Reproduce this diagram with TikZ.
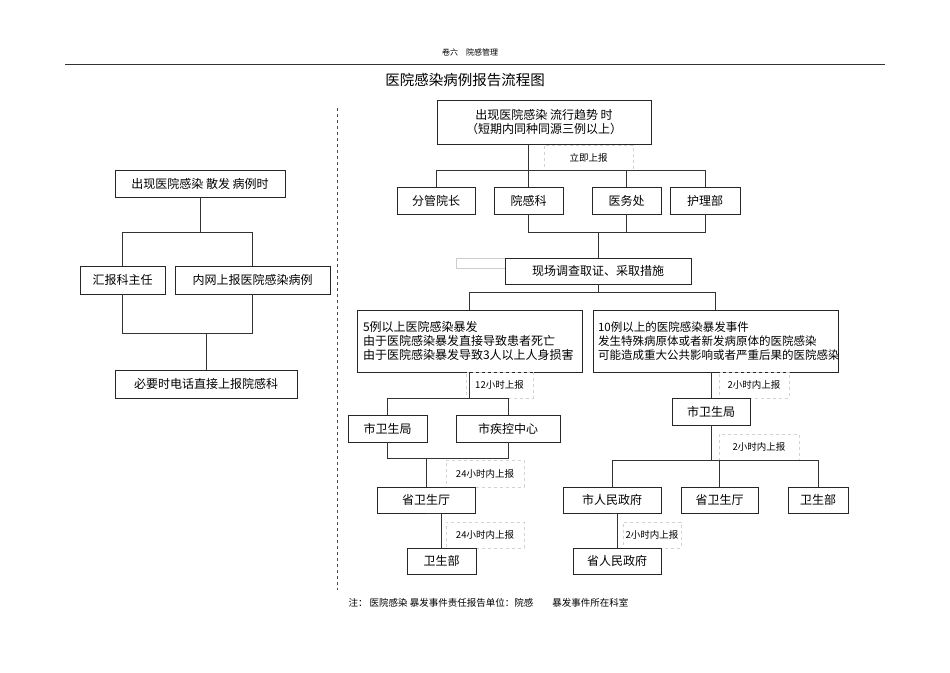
\documentclass[tikz,border=0pt]{standalone}
\usepackage{fontspec}
\setmainfont{Noto Sans CJK SC}
\begin{document}
\begin{tikzpicture}[x=1pt,y=-1pt,
  bx/.style={draw=black!85,line width=0.9pt,inner sep=0pt,font=\fontsize{12}{14}\selectfont},
  lb/.style={draw=gray!35,dashed,line width=0.5pt,inner sep=0pt,font=\fontsize{9.5}{11}\selectfont},
  ln/.style={draw=black!80,line width=0.9pt}]
\useasboundingbox (0,0) rectangle (950,672);
\node[font=\fontsize{8}{9}\selectfont] (hd) at (470,52) {卷六\quad 院感管理};
\coordinate (r1) at (65,64); \coordinate (r2) at (885,64);
\draw[black!80,line width=0.8pt] (r1) -- (r2);
\node[font=\fontsize{14.5}{16}\selectfont] (tt) at (465,80) {医院感染病例报告流程图};
\coordinate (d1) at (337,108); \coordinate (d2) at (337,590);
\draw[black!70,dashed,line width=0.6pt] (d1) -- (d2);
% left
\node[bx,minimum width=170,minimum height=27] (l1) at (200,183.5) {出现医院感染 散发 病例时};
\node[bx,minimum width=85,minimum height=28] (l2) at (122.5,280) {汇报科主任};
\node[bx,minimum width=155,minimum height=28] (l3) at (252.5,280) {内网上报医院感染病例};
\node[bx,minimum width=182,minimum height=28] (l4) at (206,384) {必要时电话直接上报院感科};
\draw[ln] (l1.south) -- (l1.south |- 0,232);
\draw[ln] (l2.north) -- (l2.north |- 0,232) -- (l3.north |- 0,232) -- (l3.north);
\draw[ln] (l2.south) -- (l2.south |- 0,333) -- (l3.south |- 0,333) -- (l3.south);
\draw[ln] (l4.north) -- (l4.north |- 0,333);
% right top
\node[bx,minimum width=214,minimum height=44,align=center] (t) at (544,122) {出现医院感染 流行趋势 时\\（短期内同种同源三例以上）};
\node[lb,minimum width=89,minimum height=25] (L1) at (588.5,157.5) {立即上报};
\node[bx,minimum width=78,minimum height=27] (fg) at (436,200.5) {分管院长};
\node[bx,minimum width=69,minimum height=27] (gk) at (528.5,200.5) {院感科};
\node[bx,minimum width=69,minimum height=27] (yw) at (626.5,200.5) {医务处};
\node[bx,minimum width=70,minimum height=27] (hl) at (705,200.5) {护理部};
\draw[ln] (gk.north |- t.south) -- (gk.north);
\draw[ln] (fg.north) -- (fg.north |- 0,170) -- (hl.north |- 0,170) -- (hl.north);
\draw[ln] (yw.north) -- (yw.north |- 0,170);
\node[draw=gray!40,line width=0.5pt,minimum width=49,minimum height=10,inner sep=0pt] (g) at (480.5,263) {};
\node[bx,minimum width=186,minimum height=26] (xc) at (598,271) {现场调查取证、采取措施};
\draw[ln] (gk.south) -- (gk.south |- 0,232) -- (hl.south |- 0,232) -- (hl.south);
\draw[ln] (yw.south) -- (yw.south |- 0,232);
\draw[ln] (xc.north) -- (xc.north |- 0,232);
% middle
\node[bx,minimum width=225,minimum height=62,align=left,text width=213] (A) at (469.5,341)
 {5例以上医院感染暴发\\由于医院感染暴发直接导致患者死亡\\由于医院感染暴发导致3人以上人身损害};
\node[bx,minimum width=245,minimum height=62,align=left,text width=235,font=\fontsize{11.5}{14}\selectfont] (B) at (715.5,341)
 {10例以上的医院感染暴发事件\\发生特殊病原体或者新发病原体的医院感染\\可能造成重大公共影响或者严重后果的医院感染};
\draw[ln] (xc.south) -- (xc.south |- 0,292);
\draw[ln] (A.north) -- (A.north |- 0,292) -- (B.north |- 0,292) -- (B.north);
% left branch
\node[lb,minimum width=67,minimum height=26] (L2) at (499.5,385) {12小时上报};
\node[bx,minimum width=79,minimum height=27] (sw1) at (387.5,428.5) {市卫生局};
\node[bx,minimum width=104,minimum height=27] (jk) at (508,428.5) {市疾控中心};
\draw[ln] (A.south) -- (A.south |- 0,398);
\draw[ln] (sw1.north) -- (sw1.north |- 0,398) -- (jk.north |- 0,398) -- (jk.north);
\node[lb,minimum width=78,minimum height=27] (L3) at (485,473.5) {24小时内上报};
\node[bx,minimum width=98,minimum height=26] (st) at (426,500) {省卫生厅};
\draw[ln] (sw1.south) -- (sw1.south |- 0,458) -- (jk.south |- 0,458) -- (jk.south);
\draw[ln] (st.north) -- (st.north |- 0,458);
\node[lb,minimum width=78,minimum height=26] (L4) at (485,535) {24小时内上报};
\node[bx,minimum width=69,minimum height=26] (wb) at (441.5,561) {卫生部};
\draw[ln] (st.south) -- (st.south -| wb.north) -- (wb.north);
% right branch
\node[lb,minimum width=70,minimum height=26] (L5) at (754,385) {2小时内上报};
\node[bx,minimum width=78,minimum height=27] (sw2) at (711,411.5) {市卫生局};
\draw[ln] (B.south -| sw2.north) -- (sw2.north);
\node[lb,minimum width=80,minimum height=26] (L6) at (759,447) {2小时内上报};
\node[bx,minimum width=98,minimum height=26] (rm) at (612,500) {市人民政府};
\node[bx,minimum width=77,minimum height=26] (st2) at (719.5,500) {省卫生厅};
\node[bx,minimum width=60,minimum height=26] (wb2) at (818,500) {卫生部};
\draw[ln] (sw2.south) -- (sw2.south |- 0,460);
\draw[ln] (rm.north) -- (rm.north |- 0,460) -- (wb2.north |- 0,460) -- (wb2.north);
\draw[ln] (st2.north) -- (st2.north |- 0,460);
\node[lb,minimum width=58,minimum height=26] (L7) at (652,535) {2小时内上报};
\node[bx,minimum width=88,minimum height=26] (sr) at (617,561) {省人民政府};
\draw[ln] (rm.south) -- (rm.south -| sr.north) -- (sr.north);
\node[anchor=west,font=\fontsize{9.5}{11}\selectfont] (fn) at (345,603) {注：\ 医院感染 暴发事件责任报告单位：院感\qquad 暴发事件所在科室};
\end{tikzpicture}
\end{document}
